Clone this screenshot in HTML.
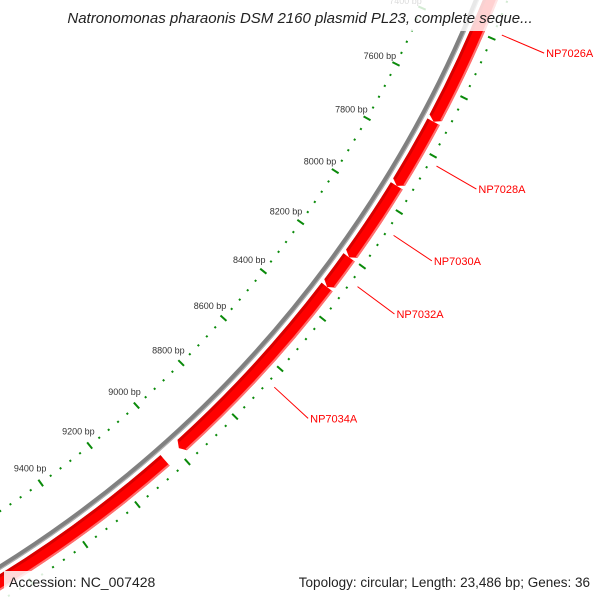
<!DOCTYPE html>
<html><head><meta charset="utf-8"><style>
html,body{margin:0;padding:0;background:#fff;overflow:hidden;width:600px;height:600px;}
svg{display:block;font-family:"Liberation Sans",sans-serif;overflow:hidden;}
</style></head><body>
<svg id="map" width="600" height="600" viewBox="0 0 600 600" xmlns="http://www.w3.org/2000/svg">
<g id="ticks"></g>
<g id="backbone"></g>
<g id="genes"></g>
<g id="labels"></g>
<rect x="0" y="0" width="600" height="31" fill="rgba(255,255,255,0.82)"/>
<text x="300" y="23" text-anchor="middle" font-size="15" font-style="italic" fill="#222">Natronomonas pharaonis DSM 2160 plasmid PL23, complete seque...</text>
<rect x="4" y="571" width="156" height="29" fill="rgba(255,255,255,0.85)"/>
<text x="9" y="587" font-size="14" fill="#222">Accession: NC_007428</text>
<rect x="296" y="571" width="304" height="29" fill="rgba(255,255,255,0.85)"/>
<text x="590" y="587" text-anchor="end" font-size="13.5" fill="#222">Topology: circular; Length: 23,486 bp; Genes: 36</text>
</svg>
<script>
const genomeLength = 23486;
const geneNames = ["NP7024A","NP7026A","NP7028A","NP7030A","NP7032A","NP7034A","NP7036A"];
const geneStarts = [6300, 7050, 7708, 7936, 8201, 8315, 9048];
const geneEnds   = [7040, 7708, 7936, 8201, 8315, 8991, 9900];
const geneLabelShown = [false, true, true, true, true, true, false];
const tickStart = 6800, tickEnd = 10200, tickStep = 40, majorStep = 200;

const NS = "http://www.w3.org/2000/svg";
const cx = -635, cy = -450;
const rTickIn = 1152, rBack = 1199, rGene = 1212, gHalf = 7, rTickOut = 1228;
function ang(bp){ return bp / genomeLength * 2 * Math.PI; }
function pt(r, bp){ const a = ang(bp); return [cx + r*Math.sin(a), cy - r*Math.cos(a)]; }
function mk(tag, attrs, parent){ const e = document.createElementNS(NS, tag); for (const k in attrs) e.setAttribute(k, attrs[k]); parent.appendChild(e); return e; }
function arcPath(r, b0, b1){ const p0 = pt(r,b0), p1 = pt(r,b1); return `M${p0[0]},${p0[1]} A${r},${r} 0 0 1 ${p1[0]},${p1[1]}`; }

const tg = document.getElementById('ticks');
for (let bp = tickStart; bp <= tickEnd; bp += tickStep) {
  const major = bp % majorStep === 0;
  for (const r of [rTickIn, rTickOut]) {
    const h = major ? 4 : 1;
    const a = pt(r - h, bp), b = pt(r + h, bp);
    const l = mk('line', {x1:a[0], y1:a[1], x2:b[0], y2:b[1], stroke:'#0a8a0a', 'stroke-width': 2}, tg);
    
    
  }
  if (major) {
    const p = pt(rTickIn - 18, bp);
    const t = mk('text', {x:p[0], y:p[1] + 3, 'text-anchor':'middle', 'font-size':9, fill:'#333'}, tg);
    t.textContent = bp + ' bp';
    
    
  }
}

const bg = document.getElementById('backbone');
const bb = mk('path', {d: arcPath(rBack, 6000, 10500), fill:'none', stroke:'#808080', 'stroke-width':5}, bg);


const bb2 = mk('path', {d: arcPath(rBack + 2, 6000, 10500), fill:'none', stroke:'#b0b0b0', 'stroke-width':1.2}, bg);



const gg = document.getElementById('genes');
const lg = document.getElementById('labels');
const head = 14;
for (let i = 0; i < geneNames.length; i++) {
  const s = geneStarts[i], e = geneEnds[i];
  const hb = Math.max(s, e - head);
  const ri = rGene - gHalf, ro = rGene + gHalf;
  const a = pt(ro, s), b = pt(ro, hb), tip = pt(rGene, e), c = pt(ri, hb), d = pt(ri, s);
  const dstr = `M${a[0]},${a[1]} A${ro},${ro} 0 0 1 ${b[0]},${b[1]} L${tip[0]},${tip[1]} L${c[0]},${c[1]} A${ri},${ri} 0 0 0 ${d[0]},${d[1]} Z`;
  const g = mk('path', {d: dstr, fill:'#ff0000'}, gg);
  
  
  const sh = mk('path', {d: arcPath(ri + 1.5, s, hb), fill:'none', stroke:'#d80000', 'stroke-width':3}, gg);
  
  
  const hl = mk('path', {d: arcPath(ro - 1, s, hb), fill:'none', stroke:'#ff7070', 'stroke-width':2}, gg);
  
  
  if (!geneLabelShown[i]) continue;
  const mid = (s + e) / 2;
  const p0 = pt(1236, mid), p1 = pt(1282, mid);
  const ln = mk('line', {x1:p0[0], y1:p0[1], x2:p1[0], y2:p1[1], stroke:'#ff0000', 'stroke-width':1}, lg);
  
  
  const t = mk('text', {x:p1[0] + 2, y:p1[1] + 4, 'font-size':11, fill:'#ff0000'}, lg);
  t.textContent = geneNames[i];
  
  
}
</script>
</body></html>
